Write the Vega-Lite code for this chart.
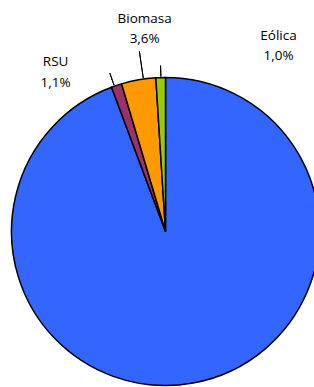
{
  "$schema": "https://vega.github.io/schema/vega-lite/v6.json",
  "autosize": "none",
  "padding": 0,
  "width": 331,
  "height": 463,
  "background": "white",
  "config": {"view": {"stroke": null}},
  "data": {
    "values": [
      {"fuente": "Resto", "valor": 94.3, "orden": 1, "etiqueta": ""},
      {"fuente": "RSU", "valor": 1.1, "orden": 2, "etiqueta": "RSU\n1,1%"},
      {"fuente": "Biomasa", "valor": 3.6, "orden": 3, "etiqueta": "Biomasa\n3,6%"},
      {"fuente": "Eólica", "valor": 1.0, "orden": 4, "etiqueta": "Eólica\n1,0%"}
    ]
  },
  "transform": [
    {"stack": "valor", "groupby": [], "sort": [{"field": "orden", "order": "ascending"}], "as": ["v0", "v1"]}
  ],
  "layer": [
    {
      "mark": {"type": "arc", "outerRadius": 154, "stroke": "#000000", "strokeWidth": 1.5},
      "encoding": {
        "theta": {"field": "v0", "type": "quantitative", "scale": {"domain": [0, 100]}},
        "theta2": {"field": "v1"},
        "color": {
          "field": "fuente",
          "type": "nominal",
          "scale": {"domain": ["Resto", "RSU", "Biomasa", "Eólica"], "range": ["#3366FF", "#993366", "#FF9900", "#99CC00"]},
          "legend": null
        }
      }
    },
    {
      "transform": [{"filter": "datum.fuente === 'RSU'"}],
      "mark": {"type": "arc", "innerRadius": 155, "outerRadius": 168, "stroke": "#000000", "strokeWidth": 1, "fill": null, "thetaOffset": 0.02, "theta2Offset": 0.02},
      "encoding": {
        "theta": {"field": "v0", "type": "quantitative"},
        "theta2": {"field": "v0"}
      }
    },
    {
      "transform": [{"filter": "datum.fuente === 'Biomasa'"}],
      "mark": {"type": "arc", "innerRadius": 155, "outerRadius": 182, "stroke": "#000000", "strokeWidth": 1, "fill": null, "thetaOffset": 0.145, "theta2Offset": 0.145},
      "encoding": {
        "theta": {"field": "v0", "type": "quantitative"},
        "theta2": {"field": "v0"}
      }
    },
    {
      "transform": [{"filter": "datum.fuente === 'Eólica'"}],
      "mark": {"type": "arc", "innerRadius": 155, "outerRadius": 166, "stroke": "#000000", "strokeWidth": 1, "fill": null, "thetaOffset": 0.033, "theta2Offset": 0.033},
      "encoding": {
        "theta": {"field": "v0", "type": "quantitative"},
        "theta2": {"field": "v0"}
      }
    },
    {
      "transform": [{"filter": "datum.fuente === 'RSU'"}],
      "mark": {"type": "text", "radius": 188, "dx": -44, "dy": 0, "font": "Open Sans", "fontSize": 13.5, "lineBreak": "\n", "lineHeight": 20.5, "baseline": "top", "align": "center", "color": "#000000"},
      "encoding": {
        "theta": {"field": "v0", "type": "quantitative"},
        "text": {"field": "etiqueta", "type": "nominal"}
      }
    },
    {
      "transform": [{"filter": "datum.fuente === 'Biomasa'"}],
      "mark": {"type": "text", "radius": 220, "dx": -7, "dy": 0, "font": "Open Sans", "fontSize": 13.5, "lineBreak": "\n", "lineHeight": 20.5, "baseline": "top", "align": "center", "color": "#000000"},
      "encoding": {
        "theta": {"field": "v1", "type": "quantitative"},
        "text": {"field": "etiqueta", "type": "nominal"}
      }
    },
    {
      "transform": [{"filter": "datum.fuente === 'Eólica'"}],
      "mark": {"type": "text", "radius": 203, "dx": 113, "dy": 0, "font": "Open Sans", "fontSize": 13.5, "lineBreak": "\n", "lineHeight": 20.5, "baseline": "top", "align": "center", "color": "#000000"},
      "encoding": {
        "theta": {"field": "v1", "type": "quantitative"},
        "text": {"field": "etiqueta", "type": "nominal"}
      }
    }
  ]
}
